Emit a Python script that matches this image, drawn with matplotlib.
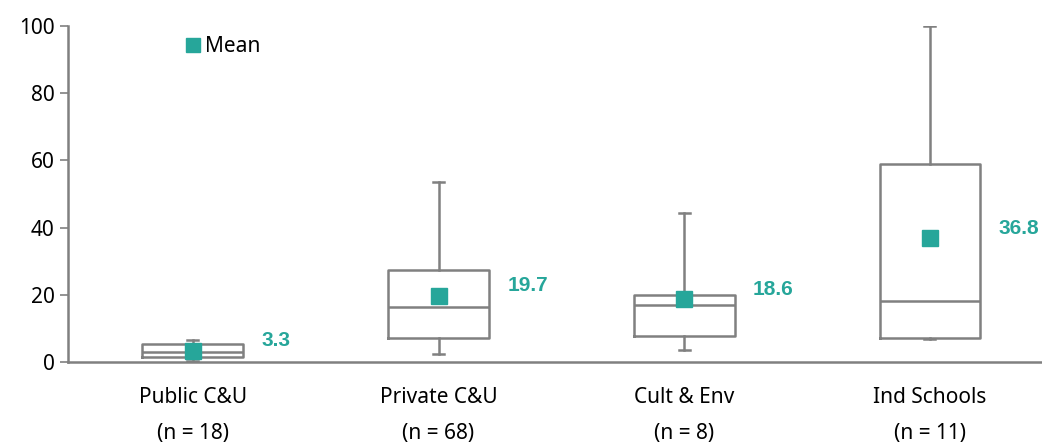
import matplotlib.pyplot as plt

plt.rcParams['font.family'] = ['Noto Sans', 'DejaVu Sans']

# Data
categories = ["Public C&U", "Private C&U", "Cult & Env", "Ind Schools"]
counts = ["(n = 18)", "(n = 68)", "(n = 8)", "(n = 11)"]
whisker_low = [0.3, 2.3, 3.6, 6.8]
q1 = [1.6, 7.2, 7.7, 7.2]
median = [3.1, 16.5, 17.0, 18.2]
q3 = [5.4, 27.4, 19.9, 58.9]
whisker_high = [6.5, 53.7, 44.3, 100.0]
means = [3.3, 19.7, 18.6, 36.8]

gray = "#808080"
teal = "#26A69A"

fig = plt.figure(figsize=(10.42, 4.44), dpi=100)
ax = fig.add_axes([0.0653, 0.1847, 0.9347, 0.7568])

stats = []
for i, name in enumerate(categories):
    stats.append({"label": name, "whislo": whisker_low[i], "q1": q1[i], "med": median[i],
                  "q3": q3[i], "whishi": whisker_high[i]})

pos = list(range(len(categories)))
lw = 1.8
ax.bxp(stats, positions=pos, widths=0.41, showfliers=False, capwidths=0.045,
       boxprops=dict(color=gray, linewidth=lw),
       medianprops=dict(color=gray, linewidth=lw),
       whiskerprops=dict(color=gray, linewidth=lw),
       capprops=dict(color=gray, linewidth=lw))

ax.plot(pos, means, linestyle="none", marker="s", markersize=12, color=teal, label="Mean", zorder=5)

for i, m in enumerate(means):
    ax.text(pos[i] + 0.28, m + 3, f"{m:.1f}", color=teal, fontsize=15, fontweight="bold",
            family=["Liberation Sans", "DejaVu Sans"], ha="left", va="center")

ax.set_ylim(0, 100)
ax.set_xlim(-0.508, 3.456)
ax.set_yticks(range(0, 101, 20))
ax.tick_params(axis="y", labelsize=15, color=gray, length=6, width=1.2)
ax.tick_params(axis="x", length=0, labelsize=15, pad=18)
ax.set_xticks(pos)
ax.set_xticklabels(categories)

for i, c in enumerate(counts):
    ax.text(pos[i], -0.212, c, transform=ax.get_xaxis_transform(), ha="center", va="center", fontsize=15)

for s in ["top", "right"]:
    ax.spines[s].set_visible(False)
ax.spines["left"].set_color(gray)
ax.spines["bottom"].set_color(gray)
ax.spines["left"].set_linewidth(lw)
ax.spines["bottom"].set_linewidth(lw)

ax.legend(loc="upper left", bbox_to_anchor=(0.1, 1.025), frameon=False, fontsize=15,
          handletextpad=0.2, handlelength=0.8, markerscale=0.82)

fig.savefig("out.png", dpi=100)
